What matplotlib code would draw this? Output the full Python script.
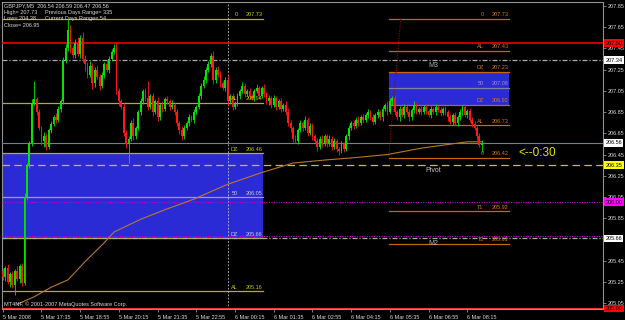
import matplotlib
matplotlib.use("Agg")
import matplotlib.pyplot as plt
import matplotlib.transforms as mtransforms
import numpy as np
import pandas as pd

# GBPJPY M5 bars, 5 Mar 2008 16:15 -> 6 Mar 2008 08:45
first_open = 205.35
closes = [
    205.30, 205.38, 205.25, 205.32, 205.22, 205.35, 205.28, 205.40, 205.24,
    206.05, 206.34, 206.56, 206.94, 206.97,
    206.85, 206.70, 206.58,
    206.62, 206.52,
    206.68, 206.74, 206.80, 206.78, 206.88, 206.95,
    207.34, 207.45, 207.62,
    207.45, 207.39,
    207.50, 207.40, 207.55, 207.35,
    207.30, 207.20, 207.28, 207.12, 207.25, 207.18, 207.10,
    207.20, 207.30, 207.25, 207.35, 207.42,
    207.45,
    207.05, 206.95, 206.90,
    206.65, 206.55, 206.60,
    206.75, 206.62, 206.70,
    206.85, 206.95, 207.05, 206.98,
    206.90, 207.00, 206.85, 206.95, 206.80, 206.92, 206.88, 206.97,
    206.95, 206.90, 206.92, 206.85,
    206.75, 206.68, 206.62, 206.70,
    206.75, 206.80, 206.78, 206.85, 206.90,
    207.00, 207.10, 207.15, 207.25,
    207.30, 207.38,
    207.15, 207.25,
    207.20, 207.12, 207.08, 207.15,
    206.95, 207.00, 206.90, 206.93,
    207.00, 207.05, 207.10, 207.02,
    207.05, 207.00, 206.98, 207.05, 207.08, 207.00,
    207.08, 207.02, 206.95, 206.98,
    206.92, 206.98, 206.90, 206.95, 206.88, 206.92, 206.85,
    206.75, 206.70, 206.60, 206.58,
    206.68, 206.75, 206.70, 206.78, 206.65, 206.72,
    206.62, 206.58, 206.52, 206.60, 206.55, 206.62,
    206.55, 206.60, 206.52, 206.58, 206.50,
    206.48, 206.55, 206.50,
    206.62, 206.70, 206.75, 206.72, 206.78, 206.75, 206.80,
    206.78, 206.82, 206.85, 206.80, 206.76, 206.82, 206.85,
    206.80, 206.88, 206.92, 206.85, 206.95,
    206.98,
    206.85, 206.80, 206.88, 206.82, 206.90, 206.85, 206.80, 206.87, 206.92, 206.85,
    206.88, 206.85, 206.90, 206.86, 206.82, 206.88, 206.85, 206.90, 206.87, 206.84, 206.88, 206.85,
    206.80, 206.76, 206.82, 206.75, 206.80,
    206.85, 206.90, 206.82, 206.86, 206.78,
    206.74, 206.70, 206.62, 206.54,
    206.56,
]
# wicks in pips above / below the body
wick_up = [
    3, 2, 4, 2, 3, 2, 5, 2, 3,
    4, 3, 2, 3, 17,
    2, 3, 2,
    4, 3,
    2, 3, 2, 4, 3, 2,
    3, 4, 11,
    5, 3,
    4, 6, 3, 5,
    4, 2, 5, 3, 2, 4, 3,
    3, 2, 4, 3, 2,
    4,
    5, 3, 2,
    4, 3, 2,
    3, 4, 2,
    2, 3, 2, 3,
    16, 2, 3, 2, 4, 2, 3, 2,
    3, 2, 4, 2,
    3, 2, 4, 3,
    2, 3, 2, 3, 2,
    3, 2, 4, 2,
    3, 3,
    5, 2,
    3, 4, 2, 3,
    5, 2, 3, 2,
    3, 2, 3, 2,
    2, 3, 2, 2, 3, 2,
    2, 3, 2, 3,
    2, 3, 2, 2, 3, 2, 3,
    4, 3, 2, 3,
    2, 3, 2, 3, 2, 3,
    3, 2, 3, 2, 3, 2,
    2, 3, 2, 3, 2,
    2, 3, 2,
    2, 3, 2, 3, 2, 3, 2,
    3, 2, 3, 2, 3, 2, 3,
    2, 3, 2, 3, 3,
    2,
    3, 2, 3, 2, 3, 2, 3, 2, 3, 2,
    2, 3, 2, 3, 2, 3, 2, 3, 2, 3, 2, 3,
    2, 3, 2, 3, 2,
    3, 2, 3, 2, 3,
    2, 3, 2, 3,
    3,
]
wick_dn = [
    3, 4, 2, 5, 3, 9, 2, 4, 3,
    2, 3, 2, 3, 2,
    3, 2, 4,
    6, 3,
    2, 3, 2, 3, 2, 3,
    2, 3, 2,
    4, 3,
    3, 2, 4, 3,
    6, 3, 2, 5, 3, 2, 4,
    2, 3, 2, 3, 2,
    2,
    3, 4, 2,
    3, 4, 18,
    2, 3, 2,
    2, 3, 2, 3,
    3, 2, 4, 2, 3, 2, 3, 2,
    2, 3, 2, 3,
    3, 4, 3, 2,
    2, 3, 2, 3, 2,
    2, 3, 2, 3,
    2, 3,
    4, 3,
    2, 3, 2, 3,
    4, 2, 3, 2,
    2, 3, 2, 3,
    2, 3, 2, 3, 2, 3,
    2, 3, 2, 3,
    3, 2, 3, 2, 3, 2, 3,
    3, 4, 3, 2,
    3, 2, 3, 2, 3, 2,
    3, 2, 4, 2, 3, 2,
    3, 2, 3, 2, 3,
    3, 2, 3,
    2, 3, 2, 3, 2, 3, 2,
    3, 2, 3, 2, 3, 2, 3,
    2, 3, 2, 3, 2,
    3,
    3, 2, 3, 2, 3, 2, 3, 2, 3, 2,
    2, 3, 2, 3, 2, 3, 2, 3, 2, 3, 2, 3,
    3, 2, 3, 2, 3,
    2, 3, 2, 3, 2,
    3, 2, 3, 2,
    7,
]

# moving average, sampled at bar numbers
ma_bar = [6, 13, 20, 27, 34, 42, 46, 57, 67, 79, 93, 107, 120, 134, 145, 159, 173, 192, 198]
ma_value = [205.04, 205.11, 205.20, 205.27, 205.44, 205.62, 205.72, 205.84, 205.93, 206.03,
            206.17, 206.28, 206.37, 206.40, 206.42, 206.45, 206.51, 206.57, 206.57]

# fibonacci sets
left_levels = [207.73, 206.94, 206.46, 206.05, 205.66, 205.16]
left_names = ["0", "AL", "DZ", "50", "DZ", "AL"]
left_zone = (205.66, 206.46)
right_levels = [207.73, 207.43, 207.23, 207.08, 206.92, 206.73, 206.42, 205.92, 205.61]
right_names = ["0", "AL", "DZ", "50", "DZ", "AL", "0", "T1", "T2"]
right_zone = (206.92, 207.23)

red_level = 207.50
m3_level = 207.34
m2_level = 205.66
bid_level = 206.56
pivot_level = 206.35
magenta_levels = [206.00, 205.68]
bottom_red_level = 205.00

price_ticks = [205.05, 205.25, 205.45, 205.65, 205.85, 206.05, 206.25, 206.45,
               206.65, 206.85, 207.05, 207.25, 207.45, 207.65, 207.85]

# ---------------------------------------------------------------
plt.rcParams["font.family"] = ["Liberation Sans", "DejaVu Sans"]
FS = 4.0
TXT = "#d8d8d8"
OLIVE = "#b4b400"
ORANGE = "#c8660c"
BLUE = "#2b2bd6"

fig = plt.figure(figsize=(6.25, 3.2), dpi=100, facecolor="black")
ax = fig.add_axes([2 / 625, 11 / 320, 601 / 625, 307 / 320], facecolor="black")

n = len(closes)
idx = np.arange(n)
c = np.array(closes)
o = np.array([first_open] + closes[:-1])
hi = np.maximum(o, c) + np.array(wick_up) / 100
lo = np.minimum(o, c) - np.array(wick_dn) / 100
bull = c >= o
cols = np.where(bull, "#00e600", "#ff1a1a")

times = pd.date_range("2008-03-05 16:15", periods=n, freq="5min")

# left fibo
lx0, lx1 = -1, 107.4
ax.fill_between([lx0, lx1], left_zone[0], left_zone[1], color=BLUE, lw=0, zorder=1)
for lev, name in zip(left_levels, left_names):
    lc = "#a0a0a0" if name == "50" else OLIVE
    ax.plot([lx0, lx1], [lev, lev], color=lc, lw=0.9, zorder=2)
    tc = "#c8c8e0" if name == "50" or lev == 205.66 else "#c8c800"
    ax.text(97.2, lev + 0.012, name, color=tc, fontsize=FS, ha="right", va="bottom", zorder=6)
    ax.text(lx1, lev + 0.012, f"{lev:.2f}", color=tc, fontsize=FS, ha="right", va="bottom", zorder=6)

# right fibo
rx0, rx1 = 159.5, 209.1
ax.fill_between([rx0, rx1], right_zone[0], right_zone[1], color=BLUE, lw=0, zorder=1)
ax.plot([rx0, rx1], [right_zone[1]] * 2, color="#9090ff", lw=0.8, ls=(0, (1, 1)), zorder=2)
for lev, name in zip(right_levels, right_names):
    lc = "#8080a0" if name == "50" else ORANGE
    ax.plot([rx0, rx1], [lev, lev], color=lc, lw=0.9, zorder=2)
    tc = "#a88ad8" if name == "50" else "#d8781a"
    ax.text(198.8, lev + 0.012, name, color=tc, fontsize=FS, ha="right", va="bottom", zorder=6)
    ax.text(rx1, lev + 0.012, f"{lev:.2f}", color=tc, fontsize=FS, ha="right", va="bottom", zorder=6)
ax.plot([164.5, 159.5], [right_levels[0], right_levels[6]], color="#a00000", lw=0.8,
        ls=(0, (1, 1.2)), zorder=2)

# full-width lines
ax.axhline(red_level, color="#ff0000", lw=1.1, zorder=3)
for lev in (m3_level, m2_level):
    ax.axhline(lev, color="#a8a8a8", lw=0.9, ls=(0, (4, 1.5, 1, 1.5)), zorder=3)
ax.axhline(bid_level, color="#70808c", lw=0.8, zorder=3)
ax.axhline(pivot_level, color="#c8c800", lw=0.9, ls=(0, (6, 3.5)), zorder=3)
for lev in magenta_levels:
    ax.axhline(lev, color="#c000c0", lw=0.8, ls=(0, (1, 1.2)), zorder=3)
ax.axhline(bottom_red_level, color="#ff3030", lw=0.8, zorder=3)

ax.text(176, m3_level - 0.015, "M3", color="#b0b0b0", fontsize=FS + 1, va="top", zorder=6)
ax.text(176, m2_level - 0.015, "M2", color="#b0b0b0", fontsize=FS + 1, va="top", zorder=6)
ax.text(174.5, pivot_level - 0.02, "Pivot", color="#c8c8c8", fontsize=FS + 1, va="top", zorder=6)

# day separator
day_start = int(np.argmax(times.day == 6))
ax.axvline(day_start, color="#c8c8c8", lw=0.6, ls=(0, (2, 2)), zorder=2)

# moving average
ax.plot(ma_bar, ma_value, color="#b8782c", lw=0.8, zorder=4)

# candles
ax.vlines(idx, lo, hi, colors=cols, lw=0.6, zorder=5)
ax.bar(idx, np.maximum(np.abs(c - o), 0.006), bottom=np.minimum(o, c), width=0.75,
       color=cols, lw=0, zorder=5)

ax.text(213, 206.46, "<--0:30", color="#e4e400", fontsize=8.5, va="center", zorder=6)

# axes
ax.set_xlim(-0.3, 248.1)
ax.set_ylim(204.995, 207.887)
for sp in ax.spines.values():
    sp.set_color("#909090")
    sp.set_linewidth(0.8)

ax.yaxis.tick_right()
ax.set_yticks(price_ticks)
# 205.65 sits under the 205.66 marker box in the original, so it is left blank
ax.set_yticklabels(["" if p == 205.65 else f"{p:.2f}" for p in price_ticks])
ax.tick_params(axis="y", colors="#909090", labelcolor=TXT, labelsize=FS, length=2, width=0.6, pad=1.5)

tick_pos = list(range(0, n, 16))
tick_lab = [times[0].strftime("%-d %b %Y")] + [times[i].strftime("%-d %b %H:%M") for i in tick_pos[1:]]
ax.set_xticks(tick_pos)
ax.set_xticklabels(tick_lab, ha="left")
ax.tick_params(axis="x", colors="#909090", labelcolor=TXT, labelsize=FS, length=2.5, width=0.6, pad=1.5)

# highlighted price boxes on the scale
ytr = mtransforms.blended_transform_factory(ax.transAxes, ax.transData)
boxes = [(red_level, "#ff0000"), (m3_level, "white"), (bid_level, "white"),
         (pivot_level, "#ffff00"), (magenta_levels[0], "#ff00ff"), (m2_level, "white"),
         (bottom_red_level, "#ff0000")]
for lev, bg in boxes:
    ax.text(1.004, lev, f"{lev:.2f}", transform=ytr, color="black", fontsize=FS, ha="left",
            va="center", zorder=10, clip_on=False,
            bbox=dict(boxstyle="square,pad=0.25", fc=bg, ec="none"))

# header texts
hdr = dict(color=TXT, fontsize=FS, transform=ax.transAxes, va="top", ha="left", zorder=7)
ax.text(0.003, 0.997, "GBPJPY,M5  206.54 206.59 206.47 206.56", **hdr)
ax.text(0.003, 0.975, "High= 207.73", **hdr)
ax.text(0.072, 0.975, "Previous Days Range= 335", **hdr)
ax.text(0.003, 0.953, "Low= 204.38", **hdr)
ax.text(0.072, 0.953, "Current Days Range= 54", **hdr)
ax.text(0.003, 0.931, "Close= 206.95", **hdr)
ax.text(0.003, 0.008, "MT4NF, \u00a9 2001-2007 MetaQuotes Software Corp.", color=TXT,
        fontsize=FS, transform=ax.transAxes, va="bottom", ha="left", zorder=7)

fig.savefig("out.png", dpi=100, facecolor="black")
